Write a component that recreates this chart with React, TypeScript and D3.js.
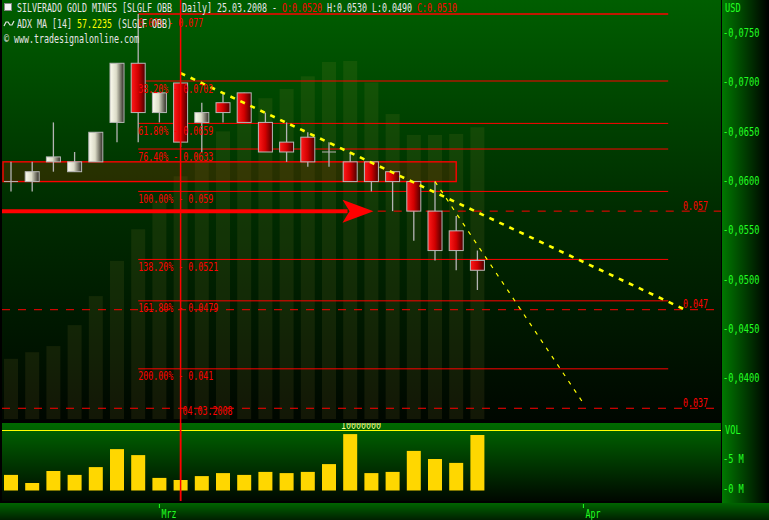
import { useEffect, useRef } from "react";
import * as d3 from "d3";

const WIDTH = 769;
const HEIGHT = 520;

// trading days, index 0 = 21.02.2008, last = 25.03.2008
const days = ["21.02", "22.02", "25.02", "26.02", "27.02", "28.02", "29.02", "03.03", "04.03", "05.03", "06.03", "07.03", "10.03", "11.03", "12.03", "13.03", "14.03", "17.03", "18.03", "19.03", "20.03", "24.03", "25.03"];
const opens = [0.06, 0.06, 0.062, 0.061, 0.062, 0.066, 0.072, 0.067, 0.07, 0.066, 0.068, 0.069, 0.066, 0.064, 0.0645, 0.063, 0.062, 0.062, 0.061, 0.06, 0.057, 0.055, 0.052];
const highs = [0.062, 0.062, 0.066, 0.063, 0.065, 0.072, 0.077, 0.069, 0.07, 0.068, 0.069, 0.069, 0.067, 0.066, 0.065, 0.064, 0.063, 0.062, 0.061, 0.06, 0.06, 0.0565, 0.053];
const lows = [0.059, 0.059, 0.061, 0.061, 0.062, 0.064, 0.064, 0.066, 0.0635, 0.063, 0.066, 0.066, 0.063, 0.062, 0.0615, 0.0615, 0.06, 0.059, 0.057, 0.054, 0.052, 0.051, 0.049];
const closes = [0.06, 0.061, 0.0625, 0.062, 0.065, 0.072, 0.067, 0.069, 0.064, 0.067, 0.067, 0.066, 0.063, 0.063, 0.062, 0.063, 0.06, 0.06, 0.06, 0.057, 0.053, 0.053, 0.051];
const volumes = [2.6, 1.25, 3.25, 2.6, 3.9, 6.9, 5.9, 2.1, 1.75, 2.4, 2.9, 2.6, 3.1, 2.9, 3.1, 4.4, 9.4, 2.9, 3.1, 6.6, 5.25, 4.6, 9.25]; // millions
const adxValues = [11.8, 13.1, 14.3, 18.4, 24.1, 31.0, 37.2, 42.9, 47.6, 52.1, 56.4, 60.6, 62.9, 64.7, 67.2, 70.0, 70.2, 66.0, 59.8, 55.7, 55.7, 55.9, 57.2];

const fibPct = [0, 38.2, 61.8, 76.4, 100, 138.2, 161.8, 200];
const fibValues = [0.077, 0.0702, 0.0659, 0.0633, 0.059, 0.0521, 0.0479, 0.041];
const fibSpan = [6, 31];

const priceTicks = [0.075, 0.07, 0.065, 0.06, 0.055, 0.05, 0.045, 0.04];
const volTicks = [5, 0];
const monthIdx = [7, 27];
const monthLabels = ["Mrz", "Apr"];

const zoneBand = [0.06, 0.062];
const zoneEnd = 21;
const targetLevels = [0.057, 0.047, 0.037];
const targetStart = [17.3, -1, -1];
const arrowLevel = 0.057;
const arrowTip = 17.1;
const trendMain = [[8, 0.071], [31.8, 0.047]];
const trendSteep = [[20, 0.06], [27, 0.0375]];
const markerIdx = 8;

const RED = "#ff0000";
const GREEN_TXT = "#22ff22";
const FONT = "'DejaVu Sans Mono', monospace";

export default function App() {
  const svgRef = useRef<SVGSVGElement>(null);

  useEffect(() => {
    document.body.style.margin = "0";
    if (!svgRef.current) return;
    const svg = d3.select(svgRef.current);
    svg.selectAll("*").remove();

    const plotL = 2;
    const plotR = 721;
    const priceBottom = 420;
    const volTop = 423;
    const volBottom = 501;

    const x = d3.scaleLinear().domain([0, 22]).range([11, 477.4]);
    const y = d3.scaleLinear().domain([0.04, 0.075]).range([378.7, 33.7]);
    const yVol = d3.scaleLinear().domain([0, 10]).range([490.5, 430.5]);
    const yAdx = d3.scaleLinear().domain([0, 80]).range([419, 11]);

    // terminal style text: fixed 5px cells
    const txt = (
      g: d3.Selection<any, unknown, null, undefined>,
      s: string,
      x0: number,
      baseline: number,
      color: string,
      cw = 5,
      size = 12
    ) => {
      const re = /\S+/g;
      let m: RegExpExecArray | null;
      while ((m = re.exec(s))) {
        g.append("text")
          .attr("x", x0 + m.index * cw)
          .attr("y", baseline)
          .attr("fill", color)
          .attr("font-family", FONT)
          .attr("font-size", size)
          .attr("textLength", m[0].length * cw)
          .attr("lengthAdjust", "spacingAndGlyphs")
          .text(m[0]);
      }
    };

    const defs = svg.append("defs");
    const grad = (id: string, stops: [number, string][], horizontal: boolean) => {
      const lg = defs.append("linearGradient").attr("id", id)
        .attr("x1", 0).attr("y1", 0)
        .attr("x2", horizontal ? 1 : 0).attr("y2", horizontal ? 0 : 1);
      stops.forEach(([o, c]) => lg.append("stop").attr("offset", o).attr("stop-color", c));
    };
    grad("bgMain", [[0, "#005e00"], [0.5, "#002c00"], [1, "#000700"]], false);
    grad("bgVol", [[0, "#006800"], [1, "#000800"]], false);
    grad("bgAxis", [[0, "#007800"], [1, "#000000"]], true);
    grad("bgBottom", [[0, "#006400"], [1, "#002000"]], false);
    grad("upBody", [[0, "#fbfbee"], [0.45, "#dcdcc8"], [1, "#2c2a22"]], true);
    grad("downBody", [[0, "#ff1a1a"], [0.5, "#d00000"], [1, "#4a0000"]], true);

    defs.append("clipPath").attr("id", "clipPrice")
      .append("rect").attr("x", plotL).attr("y", 0).attr("width", plotR - plotL).attr("height", priceBottom);
    defs.append("clipPath").attr("id", "clipVol")
      .append("rect").attr("x", plotL).attr("y", volTop).attr("width", plotR - plotL).attr("height", volBottom - volTop);

    // panels
    svg.append("rect").attr("width", WIDTH).attr("height", HEIGHT).attr("fill", "#000");
    svg.append("rect").attr("x", plotL).attr("y", 0).attr("width", plotR - plotL).attr("height", priceBottom).attr("fill", "url(#bgMain)");
    svg.append("rect").attr("x", plotL).attr("y", volTop).attr("width", plotR - plotL).attr("height", volBottom - volTop).attr("fill", "url(#bgVol)");
    svg.append("rect").attr("x", plotR + 1).attr("y", 0).attr("width", WIDTH - plotR - 1).attr("height", 503).attr("fill", "url(#bgAxis)");
    svg.append("rect").attr("x", 0).attr("y", 503).attr("width", WIDTH).attr("height", HEIGHT - 503).attr("fill", "url(#bgBottom)");

    const price = svg.append("g").attr("clip-path", "url(#clipPrice)");

    // ADX MA histogram behind the candles
    price.selectAll("rect.adx").data(adxValues).join("rect")
      .attr("class", "adx")
      .attr("x", (_, i) => x(i) - 7)
      .attr("width", 14)
      .attr("y", (d) => yAdx(d))
      .attr("height", (d) => yAdx(0) - yAdx(d))
      .attr("fill", "rgba(190,170,60,0.1)");

    // support zone
    price.append("rect")
      .attr("x", plotL + 1)
      .attr("y", y(zoneBand[1]))
      .attr("width", x(zoneEnd) - plotL - 1)
      .attr("height", y(zoneBand[0]) - y(zoneBand[1]))
      .attr("fill", "rgba(130,40,0,0.3)")
      .attr("stroke", RED)
      .attr("stroke-width", 1.4);

    // fibonacci levels
    fibValues.forEach((v, i) => {
      price.append("line")
        .attr("x1", x(fibSpan[0])).attr("x2", x(fibSpan[1]))
        .attr("y1", y(v)).attr("y2", y(v))
        .attr("stroke", RED).attr("stroke-width", i === 0 ? 1.4 : 1);
    });

    // target levels (dashed)
    targetLevels.forEach((v, i) => {
      const x0 = targetStart[i] < 0 ? plotL : x(targetStart[i]);
      price.append("line")
        .attr("x1", x0).attr("x2", plotR)
        .attr("y1", y(v)).attr("y2", y(v))
        .attr("stroke", RED).attr("stroke-width", 1)
        .attr("stroke-dasharray", "8 8");
    });

    // candles
    const cg = price.append("g");
    days.forEach((_, i) => {
      const o = opens[i], c = closes[i];
      const cx = x(i);
      cg.append("line")
        .attr("x1", cx).attr("x2", cx)
        .attr("y1", y(highs[i])).attr("y2", y(lows[i]))
        .attr("stroke", "#b4b4b4").attr("stroke-width", 1.3);
      if (o !== c) {
        cg.append("rect")
          .attr("x", cx - 7).attr("width", 14)
          .attr("y", y(Math.max(o, c)))
          .attr("height", Math.abs(y(o) - y(c)))
          .attr("fill", c > o ? "url(#upBody)" : "url(#downBody)")
          .attr("stroke", "#b8b8b8").attr("stroke-width", 1);
      } else {
        cg.append("line")
          .attr("x1", cx - 7).attr("x2", cx + 7)
          .attr("y1", y(o)).attr("y2", y(o))
          .attr("stroke", "#b4b4b4");
      }
    });

    // trend lines
    const line = d3.line<number[]>().x((d) => x(d[0])).y((d) => y(d[1]));
    price.append("path").attr("d", line(trendMain))
      .attr("fill", "none").attr("stroke", "#ffff00").attr("stroke-width", 2.6)
      .attr("stroke-dasharray", "5 6");
    price.append("path").attr("d", line(trendSteep))
      .attr("fill", "none").attr("stroke", "#ffff00").attr("stroke-width", 1.2)
      .attr("stroke-dasharray", "4 6");

    // red arrow
    const ay = y(arrowLevel);
    const tip = x(arrowTip);
    price.append("line")
      .attr("x1", plotL).attr("x2", tip - 26)
      .attr("y1", ay).attr("y2", ay)
      .attr("stroke", RED).attr("stroke-width", 4);
    price.append("polygon")
      .attr("points", [[tip - 31, ay - 11.5], [tip, ay], [tip - 31, ay + 11.5], [tip - 24, ay]].map((p) => p.join(",")).join(" "))
      .attr("fill", RED);

    // fib labels
    fibValues.forEach((v, i) => {
      const s = `${fibPct[i].toFixed(2)}% - ${v}`;
      txt(price, s, x(fibSpan[0]), y(v) + (i === 0 ? 13 : 11.5), RED);
    });
    targetLevels.forEach((v) => {
      txt(price, String(v), 683, y(v) - 1.5, RED);
    });

    // marker line at 04.03.2008
    const mx = x(markerIdx);
    svg.append("line")
      .attr("x1", mx).attr("x2", mx).attr("y1", 0).attr("y2", volBottom)
      .attr("stroke", RED).attr("stroke-width", 1.5);
    txt(price, "04.03.2008", mx + 2, 415, RED);

    // volume
    const vol = svg.append("g").attr("clip-path", "url(#clipVol)");
    vol.append("line")
      .attr("x1", plotL).attr("x2", plotR)
      .attr("y1", yVol(10)).attr("y2", yVol(10))
      .attr("stroke", "#ffff00").attr("stroke-width", 1);
    txt(vol, "10000000", 341, 429, "#ffff99");
    vol.selectAll("rect.vb").data(volumes).join("rect")
      .attr("class", "vb")
      .attr("x", (_, i) => x(i) - 7)
      .attr("width", 14)
      .attr("y", (d) => yVol(d))
      .attr("height", (d) => yVol(0) - yVol(d))
      .attr("fill", "#ffd700");
    svg.append("line")
      .attr("x1", mx).attr("x2", mx).attr("y1", volTop).attr("y2", volBottom)
      .attr("stroke", RED).attr("stroke-width", 1.5);

    // header
    const hdr = svg.append("g");
    hdr.append("rect").attr("x", 4.5).attr("y", 3.5).attr("width", 7).attr("height", 7)
      .attr("fill", "#f4f4f4").attr("stroke", "#8a8a8a");
    txt(hdr, "SILVERADO GOLD MINES [SLGLF OBB  Daily] 25.03.2008 -", 17, 11.5, "#e6e6e6");
    txt(hdr, "O:0.0520", 17 + 53 * 5, 11.5, RED);
    txt(hdr, "H:0.0530 L:0.0490", 17 + 62 * 5, 11.5, "#e6e6e6");
    txt(hdr, "C:0.0510", 17 + 80 * 5, 11.5, RED);
    hdr.append("path")
      .attr("d", "M4,26 L6,22 L8,22 L10,25 L12,25 L14,21")
      .attr("fill", "none").attr("stroke", "#e6e6e6").attr("stroke-width", 1.2);
    txt(hdr, "ADX MA [14]", 17, 27.5, "#e6e6e6");
    txt(hdr, "57.2235", 17 + 12 * 5, 27.5, "#ffff00");
    txt(hdr, "(SLGLF OBB)", 17 + 20 * 5, 27.5, "#e6e6e6");
    txt(hdr, "© www.tradesignalonline.com", 4, 42.5, "#e6e6e6");

    // right axis
    const ax = svg.append("g");
    txt(ax, "USD", 725, 11.5, GREEN_TXT, 5.2);
    const fmt = d3.format(".4f");
    priceTicks.forEach((v) => {
      txt(ax, `-${fmt(v).replace(".", ",")}`, 723, y(v) + 3.4, GREEN_TXT, 5.2);
    });
    txt(ax, "VOL", 725, 434, GREEN_TXT, 5.2);
    volTicks.forEach((v) => {
      txt(ax, `-${v} M`, 723, yVol(v) + 2.6, GREEN_TXT, 5.2);
    });

    // time axis
    monthIdx.forEach((i, k) => {
      const tx = x(i);
      ax.append("line").attr("x1", tx).attr("x2", tx).attr("y1", 504).attr("y2", 508)
        .attr("stroke", GREEN_TXT).attr("stroke-width", 1);
      txt(ax, monthLabels[k], tx + 2, 517.5, GREEN_TXT);
    });
  }, []);

  return <svg ref={svgRef} width={WIDTH} height={HEIGHT} style={{ display: "block" }} />;
}
